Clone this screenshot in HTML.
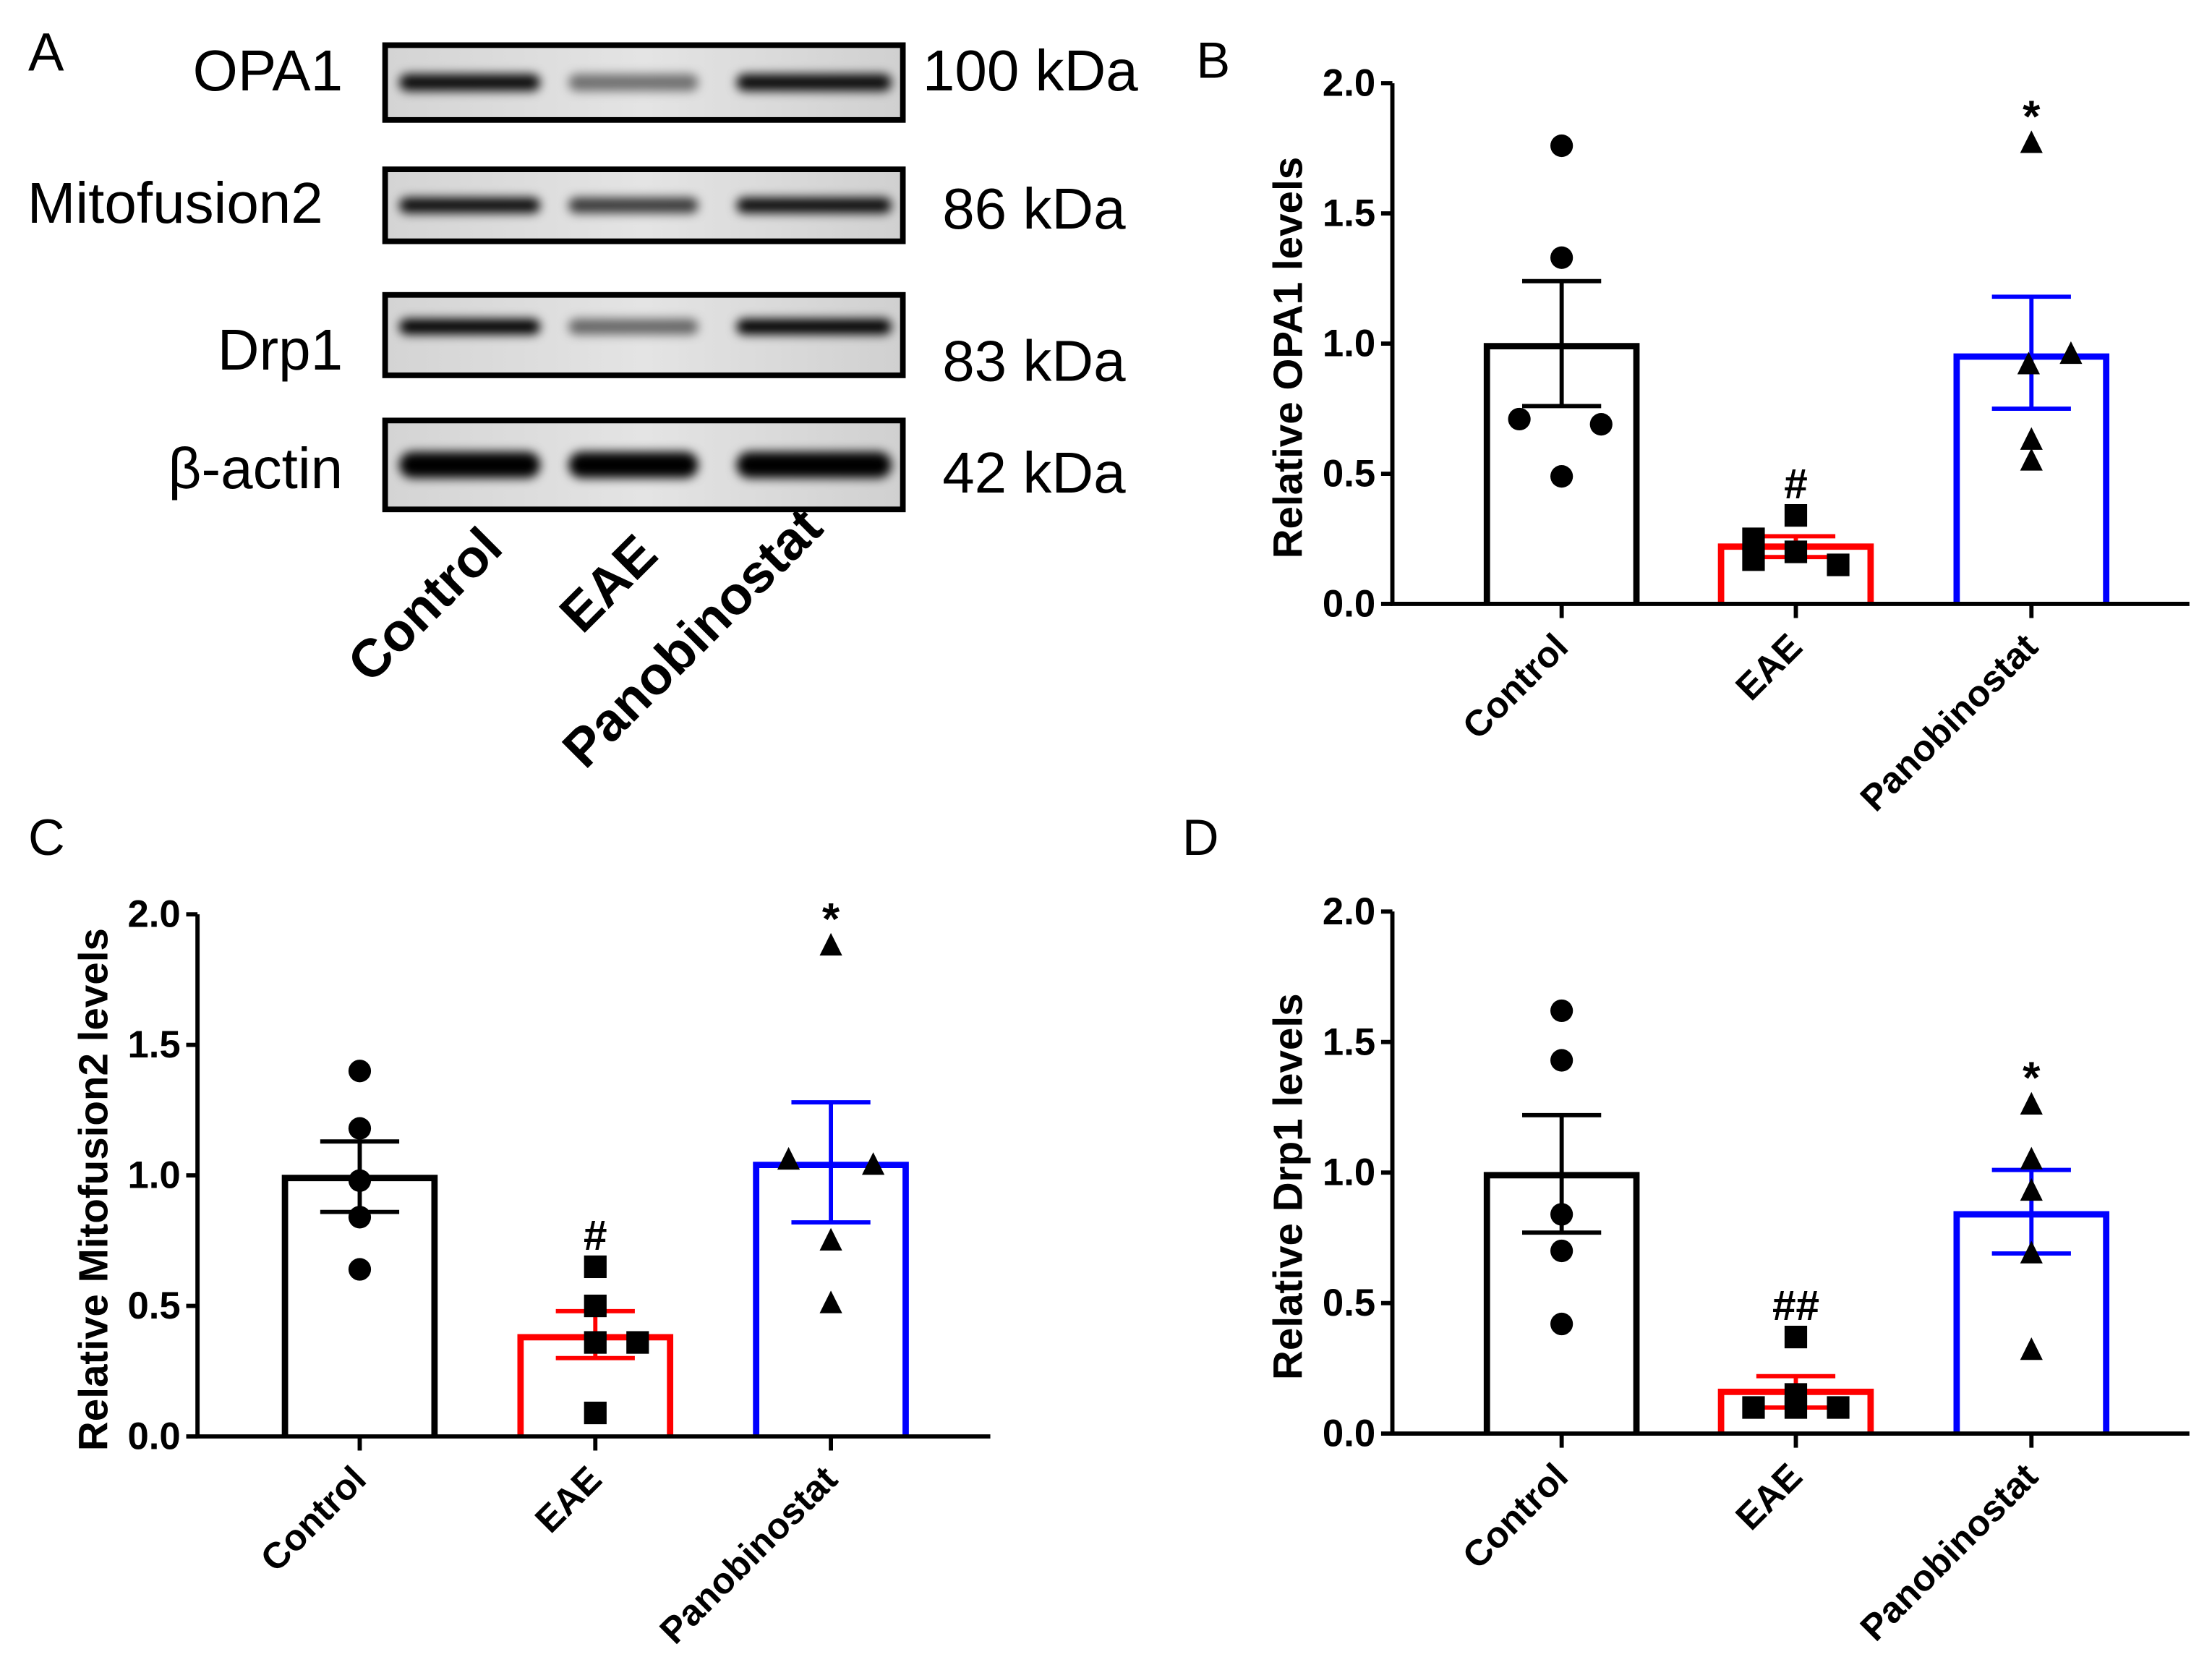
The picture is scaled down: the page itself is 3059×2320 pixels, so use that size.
<!DOCTYPE html>
<html><head><meta charset="utf-8"><style>
html,body{margin:0;padding:0;background:#fff;}
svg{display:block;}
text{font-family:"Liberation Sans",sans-serif;}
.nar{font-family:"Liberation Sans Narrow","Liberation Sans",sans-serif;}
</style></head>
<body>
<svg id="fig" width="3059" height="2320" viewBox="0 0 1568 1189.2" xmlns="http://www.w3.org/2000/svg">
<defs>
<filter id="blur" x="-20%" y="-100%" width="140%" height="300%"><feGaussianBlur stdDeviation="3.5"/></filter>
<linearGradient id="bg" x1="0" y1="0" x2="1" y2="0"><stop offset="0" stop-color="#d4d4d4"/><stop offset="0.5" stop-color="#e4e4e4"/><stop offset="1" stop-color="#d0d0d0"/></linearGradient>
</defs>
<g id="panelA"></g>
<g id="panelB"></g>
<g id="panelC"></g>
<g id="panelD"></g>
</svg>
<script>
const NS="http://www.w3.org/2000/svg";
const categories=["Control","EAE","Panobinostat"];
const colors=["#000","#ff0000","#0000ff"];
// OPA1
const opaMeans=[0.99,0.22,0.95];
const opaSemLo=[0.76,0.18,0.75];
const opaSemHi=[1.24,0.26,1.18];
const opaPts=[[1.76,1.33,0.71,0.69,0.49],[0.34,0.25,0.20,0.17,0.15],[1.77,0.96,0.92,0.63,0.55]];
const opaMarks=["","#","*"];
// Mitofusion2
const mfnMeans=[0.99,0.38,1.04];
const mfnSemLo=[0.86,0.30,0.82];
const mfnSemHi=[1.13,0.48,1.28];
const mfnPts=[[1.40,1.18,0.98,0.84,0.64],[0.65,0.50,0.36,0.36,0.09],[1.88,1.06,1.04,0.75,0.51]];
const mfnMarks=["","#","*"];
// Drp1
const drpMeans=[0.99,0.16,0.84];
const drpSemLo=[0.77,0.10,0.69];
const drpSemHi=[1.22,0.22,1.01];
const drpPts=[[1.62,1.43,0.84,0.70,0.42],[0.37,0.15,0.10,0.10,0.10],[1.26,1.05,0.93,0.69,0.32]];
const drpMarks=["","##","*"];
const yTicks=["0.0","0.5","1.0","1.5","2.0"];
// point x offsets (layout, not data)
const offs=[[0,0,-30,28,0],[0,-30,0,-30,30],[0,28,-2,0,0]];
const offsC=[[0,0,0,0,0],[0,0,0,30,0],[0,-30,30,0,0]];
const offsD=[[0,0,0,0,0],[0,0,-30,0,30],[0,0,0,0,0]];

function el(p,tag,attrs,txt){const e=document.createElementNS(NS,tag);for(const k in attrs)e.setAttribute(k,attrs[k]);if(txt!==undefined)e.textContent=txt;p.appendChild(e);return e;}

function chart(g,opt){
  const {ax,y0,y2,xEnd,cx,means,lo,hi,pts,marks,title,label,lx,ly,offsets}=opt;
  const ys=v=>y0-(y0-y2)*v/2;
  const t=el(g,"text",{x:lx,y:ly,"font-size":36});t.textContent=label;
  
  
  means.forEach((m,i)=>{
    const w=106,x=cx[i]-w/2;
    const b=el(g,"path",{d:`M${x},${y0} V${ys(m)} H${x+w} V${y0}`,fill:"none",stroke:colors[i],"stroke-width":4.5});
    
    
    const e=el(g,"path",{d:`M${cx[i]},${ys(lo[i])} V${ys(hi[i])} M${cx[i]-28},${ys(hi[i])} H${cx[i]+28} M${cx[i]-28},${ys(lo[i])} H${cx[i]+28}`,fill:"none",stroke:colors[i],"stroke-width":3});
    
    
    pts[i].forEach((v,j)=>{
      const px=cx[i]+offsets[i][j],py=ys(v);let m;
      if(i==0)m=el(g,"circle",{cx:px,cy:py,r:8,fill:"#000"});
      else if(i==1)m=el(g,"rect",{x:px-8,y:py-8,width:16,height:16,fill:"#000"});
      else m=el(g,"path",{d:`M${px},${py-9} L${px+8},${py+7} L${px-8},${py+7}Z`,fill:"#000"});
      
      
    });
    if(marks[i]){
      const top=Math.max(hi[i],...pts[i]);
      const s=el(g,"text",{x:cx[i],y:ys(top)-(marks[i]=="*"?8:12),"font-size":marks[i]=="*"?32:30,"font-weight":"bold","text-anchor":"middle"},marks[i]);
      
      
    }
  });
  const a=el(g,"path",{d:`M${ax},${y2} V${y0} H${xEnd}`,fill:"none",stroke:"#000","stroke-width":3});
  
  
  yTicks.forEach((tk,k)=>{
    const y=ys(+tk);
    el(g,"line",{x1:ax-8,x2:ax,y1:y,y2:y,stroke:"#000","stroke-width":3});
    const tt=el(g,"text",{x:ax-12,y:y+9,"font-size":27,"font-weight":"bold","text-anchor":"end",class:"nar"},tk);
    
    
  });
  cx.forEach((x,i)=>{
    el(g,"line",{x1:x,x2:x,y1:y0,y2:y0+10,stroke:"#000","stroke-width":3});
    const c=el(g,"text",{x:x+6,y:y0+32,"font-size":26,"font-weight":"bold","text-anchor":"end",transform:`rotate(-45 ${x+6} ${y0+32})`},categories[i]);
    
    
  });
  const ty=(y0+y2)/2+10;
  const yt=el(g,"text",{x:ax-64,y:ty,"font-size":29,"font-weight":"bold","text-anchor":"middle",transform:`rotate(-90 ${ax-64} ${ty})`},title);
  
  
}
chart(document.getElementById('panelB'),{ax:987,y0:428,y2:59,xEnd:1552,cx:[1107,1273,1440],means:opaMeans,lo:opaSemLo,hi:opaSemHi,pts:opaPts,marks:opaMarks,title:"Relative OPA1 levels",label:"B",lx:848,ly:55,offsets:offs});
chart(document.getElementById('panelC'),{ax:140,y0:1018,y2:648,xEnd:702,cx:[255,422,589],means:mfnMeans,lo:mfnSemLo,hi:mfnSemHi,pts:mfnPts,marks:mfnMarks,title:"Relative Mitofusion2 levels",label:"C",lx:20,ly:606,offsets:offsC});
chart(document.getElementById('panelD'),{ax:987,y0:1016,y2:646,xEnd:1552,cx:[1107,1273,1440],means:drpMeans,lo:drpSemLo,hi:drpSemHi,pts:drpPts,marks:drpMarks,title:"Relative Drp1 levels",label:"D",lx:838,ly:606,offsets:offsD});

// Panel A blots
const gA=document.getElementById('panelA');
let t=el(gA,"text",{x:20,y:50,"font-size":38},"A");
const blots=[["OPA1","100 kDa",32,85,[0.95,0.5,0.95],1.1,64,64],["Mitofusion2","86 kDa",120,171,[0.95,0.75,0.95],1.0,158,162],["Drp1","83 kDa",209,266,[1,0.55,1],1.0,262,270],["β-actin","42 kDa",298,361,[1,1,1],1.7,346,349]];
const lanes=[[283,383],[403,495],[522,632]];
blots.forEach(b=>{
  const [name,kd,yt,yb,ints,th,ly,ky]=b;
  const g=el(gA,"g",{});
  
  
  el(g,"rect",{x:273,y:yt,width:367,height:yb-yt,fill:"url(#bg)"});
  const cy=(yt+yb)/2+(name=="Drp1"?-6:0);
  lanes.forEach((l,i)=>{
    const h=11*th;
    el(g,"rect",{x:l[0],y:cy-h/2,width:l[1]-l[0],height:h,rx:h/2,fill:"#000","fill-opacity":ints[i],filter:"url(#blur)"});
  });
  el(g,"rect",{x:273,y:yt,width:367,height:yb-yt,fill:"none",stroke:"#000","stroke-width":4});
  el(g,"text",{x:name=="Mitofusion2"?229:243,y:ly,"font-size":41,"text-anchor":"end",class:"nar"},name);
  el(g,"text",{x:name=="OPA1"?654:668,y:ky,"font-size":41,class:"nar"},kd);
});
[[358,390],[468,395],[585,376]].forEach((p,i)=>{
  const c=el(gA,"text",{x:p[0],y:p[1],"font-size":38,"font-weight":"bold","text-anchor":"end",transform:`rotate(-45 ${p[0]} ${p[1]})`},categories[i]);
  
  
});
</script>
</body></html>
